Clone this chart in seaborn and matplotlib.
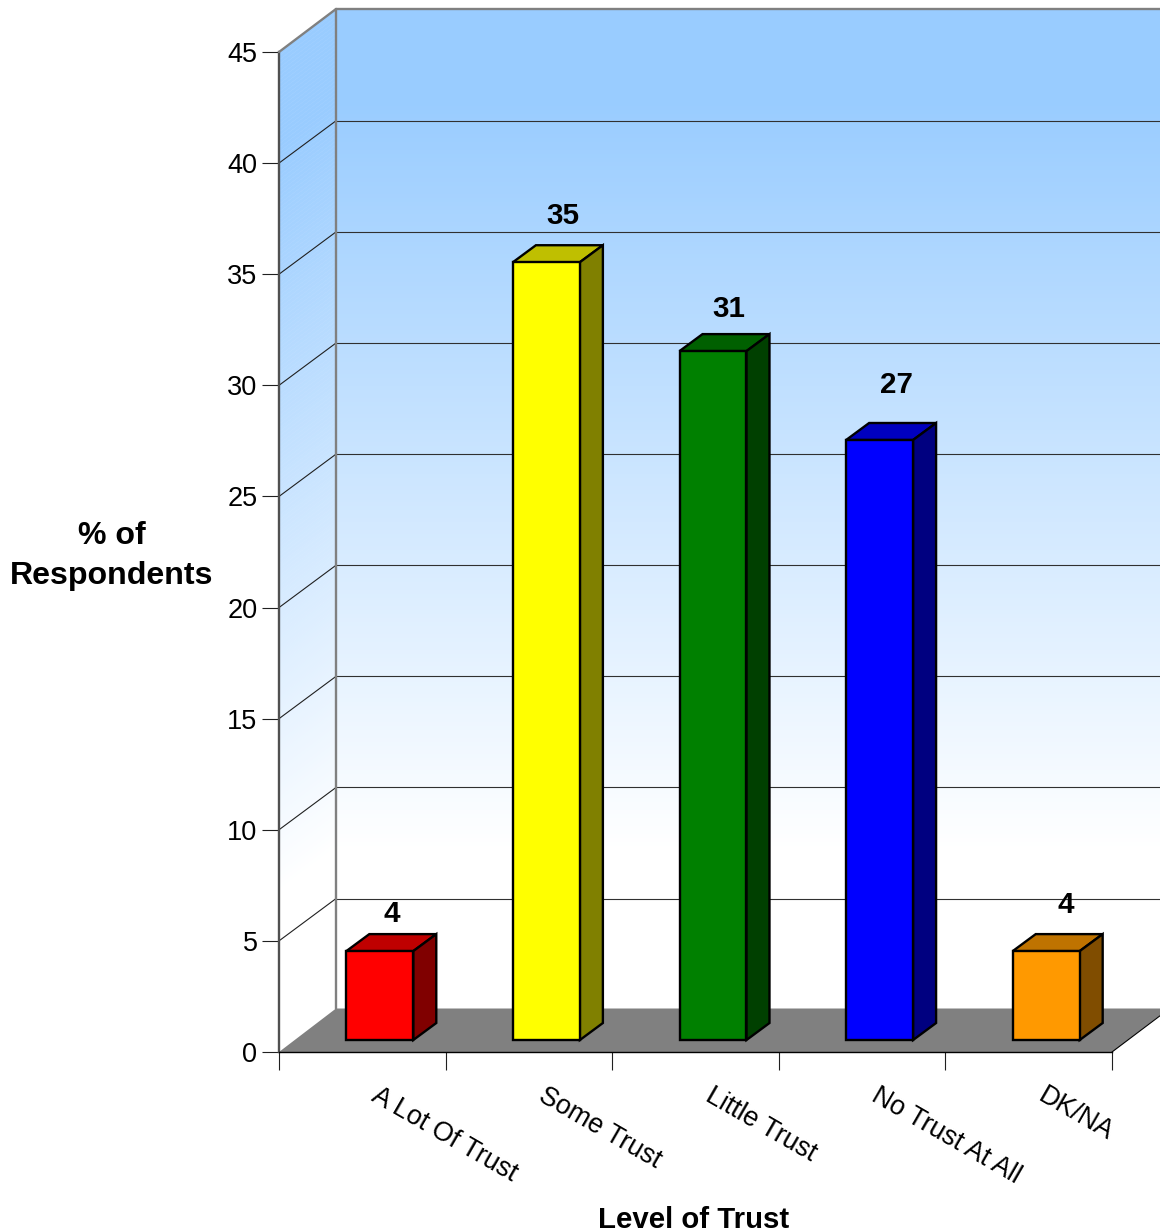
import numpy as np
import seaborn as sns
import matplotlib.pyplot as plt
from matplotlib.patches import Polygon
from matplotlib.transforms import Affine2D, IdentityTransform

categories = ["A Lot Of Trust", "Some Trust", "Little Trust", "No Trust At All", "DK/NA"]
values = [4, 35, 31, 27, 4]
y_ticks = [0, 5, 10, 15, 20, 25, 30, 35, 40, 45]
colors = ["#FF0000", "#FFFF00", "#008000", "#0000FF", "#FF9900"]
top_colors = ["#BF0000", "#BFBF00", "#006000", "#0000BF", "#BF7300"]
side_colors = ["#800000", "#808000", "#004000", "#000080", "#804D00"]

sns.set_style("white")
plt.rcParams["font.family"] = ["Liberation Sans", "DejaVu Sans"]
plt.rcParams["text.color"] = "black"
plt.rcParams["axes.labelcolor"] = "black"
plt.rcParams["ytick.labelcolor"] = "black"

W, H = 1160, 1232
fig = plt.figure(figsize=(W / 100, H / 100), dpi=100)
ax = fig.add_axes([279 / W, (H - 1052) / H, 833 / W, 1000 / H])

# depth of the box and of each bar, in pixels
DX, DY = 57, 43
BDX, BDY = 23, 17
SHIFT_X, SHIFT_Y = 17.5, 12

sns.barplot(x=categories, y=values, hue=categories, palette=colors, legend=False,
            width=0.402, saturation=1, edgecolor="black", linewidth=1.7, ax=ax, zorder=6)

ax.set_xlim(-0.5, 4.5)
ax.set_ylim(0, 45)
ax.patch.set_visible(False)


def px(x, y):
    return ax.transData.transform((x, y))


def poly(points, **kw):
    ax.add_patch(Polygon(points, closed=True, transform=IdentityTransform(), clip_on=False, **kw))


def line(p, q, **kw):
    ax.plot([p[0], q[0]], [p[1], q[1]], transform=IdentityTransform(), clip_on=False, **kw)


# walls, gradient drawn as thin strips
x0, y0 = px(-0.5, 0)
x1, y1 = px(4.5, 45)
n = 250
edges = np.linspace(y0, y1, n + 1)
for k in range(n):
    f = np.clip(((k + 0.5) / n - 0.159) / 0.75, 0, 1)
    c = (1 - 0.4 * f, 1 - 0.2 * f, 1)
    a, b = edges[k], edges[k + 1]
    poly([(x0 + DX, a + DY), (x1 + DX, a + DY), (x1 + DX, b + DY), (x0 + DX, b + DY)],
         facecolor=c, edgecolor=c, lw=0.3, zorder=0.5)
    poly([(x0, a), (x0 + DX, a + DY), (x0 + DX, b + DY), (x0, b)],
         facecolor=c, edgecolor=c, lw=0.3, zorder=0.5)

# floor
poly([(x0, y0), (x0 + DX, y0 + DY + 0.5), (x1 + DX, y0 + DY + 0.5), (x1, y0)],
     facecolor="#808080", edgecolor="none", zorder=1)
line((x1, y0), (x1 + DX, y0 + DY), color="black", lw=0.8, zorder=2)

# gridlines on both walls
for v in y_ticks[1:-1]:
    _, yy = px(0, v)
    line((x0, yy), (x0 + DX, yy + DY - 0.7), color="#202020", lw=0.8, zorder=2)
    line((x0 + DX, yy + DY - 0.7), (x1 + DX, yy + DY - 0.7), color="#303030", lw=0.8, zorder=2)

# wall borders
line((x0, y1), (x0 + DX, y1 + DY), color="#808080", lw=1.7, zorder=3)
line((x0 + DX, y1 + DY), (x1 + DX, y1 + DY), color="#808080", lw=1.7, zorder=3)
line((x0 + DX, y0 + DY), (x0 + DX, y1 + DY), color="#808080", lw=1.7, zorder=3)

# bars: front from seaborn, shifted back from the axis, then top and side faces
shift = ax.transData + Affine2D().translate(SHIFT_X, SHIFT_Y)
for i, bar in enumerate(ax.patches[:len(values)]):
    bar.set_transform(shift)
    bar.set_clip_on(False)
    bar.set_joinstyle("miter")
    xa, ya = px(bar.get_x(), 0)
    xb, yb = px(bar.get_x() + bar.get_width(), bar.get_height())
    xa, xb = xa + SHIFT_X, xb + SHIFT_X
    ya, yb = ya + SHIFT_Y, yb + SHIFT_Y
    poly([(xa, yb), (xa + BDX, yb + BDY), (xb + BDX, yb + BDY), (xb, yb)],
         facecolor=top_colors[i], edgecolor="black", lw=1.7, zorder=5, joinstyle="miter")
    poly([(xb, ya), (xb + BDX, ya + BDY), (xb + BDX, yb + BDY), (xb, yb)],
         facecolor=side_colors[i], edgecolor="black", lw=1.7, zorder=5, joinstyle="miter")

ax.set_xlim(-0.5, 4.5)
ax.set_ylim(0, 45)

# value labels, hand placed like the source chart
label_dx = [29.5, 34.5, 33.5, 34, 37]
label_dy = [49, 58, 54, 67, 58]
for i, v in enumerate(values):
    ax.annotate(str(v), xy=(i, v), xytext=(label_dx[i], label_dy[i]), xycoords="data",
                textcoords="offset pixels", ha="center", va="center", color="black",
                fontsize=21.3, fontweight="bold", annotation_clip=False, zorder=7)

# axes furniture
sns.despine(ax=ax, top=True, right=True)
ax.spines["left"].set_color("#505050")
ax.spines["left"].set_linewidth(1.7)
ax.spines["bottom"].set_color("black")
ax.spines["bottom"].set_linewidth(1.0)
ax.spines["bottom"].set_zorder(4)

ax.set_yticks(y_ticks)
ax.tick_params(axis="y", left=True, length=12.5, width=0.8, color="#202020", labelsize=19.5, pad=3,
               labelcolor="black")
ax.set_xticks(np.arange(-0.5, 5, 1))
ax.set_xticklabels([])
ax.tick_params(axis="x", bottom=True, length=13, width=0.8, color="#202020")

for i, name in enumerate(categories):
    ax.annotate(name, xy=(i - 0.5, 0), xytext=(101.5, -31), xycoords="data",
                textcoords="offset pixels", ha="left", va="top", rotation=-30, color="black",
                rotation_mode="anchor", fontsize=19.3, annotation_clip=False)

ax.set_ylabel("% of\nRespondents", rotation=0, fontsize=23.1, fontweight="bold", color="black",
              ha="center", va="center", linespacing=1.47)
ax.yaxis.set_label_coords((111.5 - 279) / 833, (1052 - 556) / 1000)
ax.set_xlabel("Level of Trust", fontsize=21.2, fontweight="bold", ha="center", va="center", color="black")
ax.xaxis.set_label_coords((693.5 - 279) / 833, -(1220 - 1052) / 1000)

fig.savefig("out.png", dpi=100, facecolor="white")
